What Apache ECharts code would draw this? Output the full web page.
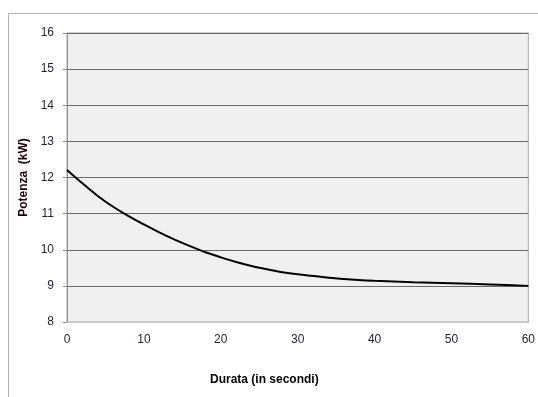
<!DOCTYPE html>
<html>
<head>
<meta charset="utf-8">
<script src="https://cdn.jsdelivr.net/npm/echarts@6/dist/echarts.min.js"></script>
<style>
html,body{margin:0;padding:0;background:#fff;}
#chart{width:538px;height:397px;}
</style>
</head>
<body>
<div id="chart"></div>
<script>
// Data
var seconds = [0, 2, 4, 6, 8, 10, 12, 14, 16, 18, 20, 22, 24, 26, 28, 30, 33, 36, 40, 45, 50, 55, 60];
var powerKW = [12.21, 11.84, 11.49, 11.19, 10.93, 10.70, 10.48, 10.28, 10.10, 9.93, 9.79, 9.66, 9.55, 9.46, 9.38, 9.32, 9.25, 9.19, 9.14, 9.10, 9.07, 9.04, 9.00];
var xTitle = 'Durata (in secondi)';
var yTitle = 'Potenza  (kW)';

var chart = echarts.init(document.getElementById('chart'), null, {renderer: 'canvas'});
var pts = seconds.map(function (s, i) { return [s, powerKW[i]]; });

chart.setOption({
  animation: false,
  backgroundColor: '#ffffff',
  grid: {
    left: 67, top: 33, right: 8, bottom: 75,
    show: true, backgroundColor: '#f0f0f0', borderColor: '#a8a8a8', borderWidth: 1
  },
  graphic: [
    {
      type: 'polyline', silent: true,
      shape: {points: [[8.5, 397], [8.5, 13.5], [538, 13.5]]},
      style: {stroke: '#b4b4b4', lineWidth: 1, fill: null}
    },
    {
      type: 'text', left: 210, top: 374,
      style: {text: xTitle, font: 'bold 12px "Liberation Sans", Arial, sans-serif', fill: '#000'}
    }
  ],
  xAxis: {
    type: 'value', min: 0, max: 60, interval: 10,
    axisLine: {show: true, lineStyle: {color: '#c8c8c8', width: 1}},
    axisTick: {show: false},
    splitLine: {show: false},
    axisLabel: {color: '#1e1e3c', fontSize: 12, fontFamily: '"Liberation Sans", Arial, sans-serif', margin: 12}
  },
  yAxis: {
    type: 'value', min: 8, max: 16, interval: 1,
    name: yTitle, nameLocation: 'middle', nameGap: 37, nameRotate: 90,
    nameTextStyle: {color: '#200000', fontWeight: 'bold', fontSize: 12, fontFamily: '"Liberation Sans", Arial, sans-serif'},
    axisLine: {show: true, lineStyle: {color: '#909090', width: 1}},
    axisTick: {show: true, length: 4, inside: false, lineStyle: {color: '#909090'}},
    splitLine: {show: true, lineStyle: {color: '#6a6a6a', width: 1}},
    axisLabel: {color: '#1e1e3c', fontSize: 12, fontFamily: '"Liberation Sans", Arial, sans-serif', margin: 13}
  },
  series: [{
    type: 'line', data: pts, smooth: 0.3, showSymbol: false, symbol: 'none',
    lineStyle: {color: '#000', width: 2}
  }]
});
</script>
</body>
</html>
